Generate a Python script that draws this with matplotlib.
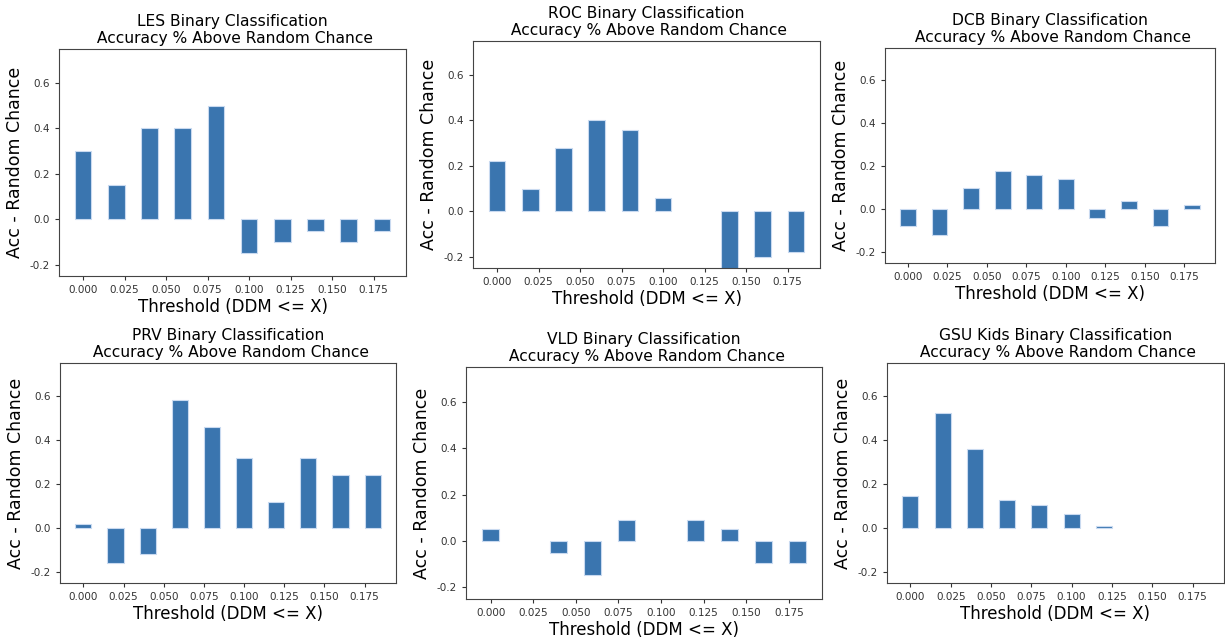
import matplotlib.pyplot as plt
import numpy as np

# thresholds (DDM <= X)
thresholds = [0.00, 0.02, 0.04, 0.06, 0.08, 0.10, 0.12, 0.14, 0.16, 0.18]

nan = np.nan  # no bar drawn for that threshold
les = [0.30, 0.15, 0.40, 0.40, 0.50, -0.15, -0.10, -0.05, -0.10, -0.05]
roc = [0.22, 0.10, 0.28, 0.40, 0.36, 0.06, nan, -0.30, -0.20, -0.18]
dcb = [-0.08, -0.12, 0.10, 0.18, 0.16, 0.14, -0.04, 0.04, -0.08, 0.02]
prv = [0.02, -0.16, -0.12, 0.58, 0.46, 0.32, 0.12, 0.32, 0.24, 0.24]
vld = [0.05, nan, -0.05, -0.145, 0.092, nan, 0.092, 0.05, -0.095, -0.095]
gsu = [0.145, 0.525, 0.357, 0.128, 0.105, 0.063, 0.011, nan, nan, nan]

names = ['LES', 'ROC', 'DCB', 'PRV', 'VLD', 'GSU Kids']
series = [les, roc, dcb, prv, vld, gsu]

W, H = 1225, 639
# axes boxes in pixels: left, top, right, bottom (panels were pasted at uneven spots)
boxes = [
    (59, 49, 406, 276),
    (473, 41, 820, 268),
    (885, 48, 1215, 263),
    (60, 363, 396, 583),
    (466, 367, 822, 599),
    (887, 363, 1224, 583),
]

fig = plt.figure(figsize=(W / 100, H / 100), dpi=100)
bar_color = '#3a75af'

for name, vals, (l, t, r, b) in zip(names, series, boxes):
    ax = fig.add_axes([l / W, 1 - b / H, (r - l) / W, (b - t) / H])
    ax.bar(thresholds, vals, width=0.01, color=bar_color,
           edgecolor='#c9daf0', linewidth=0.8)
    ax.set_xlim(-0.0145, 0.1945)
    ax.set_ylim(-0.25, 0.75)
    ax.set_yticks([-0.2, 0.0, 0.2, 0.4, 0.6])
    ax.set_xticks([0.0, 0.025, 0.05, 0.075, 0.1, 0.125, 0.15, 0.175])
    ax.xaxis.set_major_formatter(plt.FormatStrFormatter('%.3f'))
    ax.yaxis.set_major_formatter(plt.FormatStrFormatter('%.1f'))
    ax.tick_params(labelsize=7.5, colors='#333333', length=3)
    ax.set_title(name + ' Binary Classification\n Accuracy % Above Random Chance',
                 fontsize=11.2, pad=4)
    ax.set_xlabel('Threshold (DDM <= X)', fontsize=12, labelpad=2)
    ax.set_ylabel('Acc - Random Chance', fontsize=12.5, labelpad=4)
    for s in ax.spines.values():
        s.set_color('#444444')

plt.savefig('out.png', dpi=100)
